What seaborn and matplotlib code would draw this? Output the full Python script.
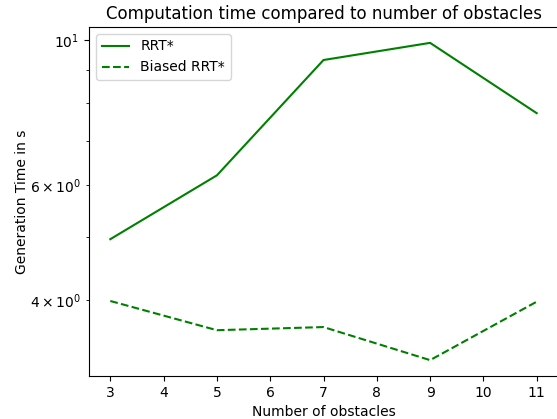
import matplotlib
matplotlib.use("Agg")
import matplotlib.pyplot as plt
import seaborn as sns
import pandas as pd

obstacles = [3, 5, 7, 9, 11]
rrt_star = [4.96, 6.21, 9.32, 9.90, 7.73]
biased_rrt_star = [3.99, 3.60, 3.64, 3.24, 3.98]

df = pd.DataFrame({
    "obstacles": obstacles * 2,
    "time": rrt_star + biased_rrt_star,
    "method": ["RRT*"] * len(obstacles) + ["Biased RRT*"] * len(obstacles),
})

W, H = 557, 419
fig = plt.figure(figsize=(W / 100, H / 100), dpi=100)
ax = fig.add_axes([89 / W, 1 - 376 / H, (558 - 89) / W, (376 - 27) / H])
sns.lineplot(data=df, x="obstacles", y="time", style="method", color="green",
             dashes={"RRT*": "", "Biased RRT*": (3.7, 1.6)}, ax=ax, linewidth=1.5)
ax.set_yscale("log")
ax.set_title("Computation time compared to number of obstacles")
ax.set_xlabel("Number of obstacles")
ax.set_ylabel("Generation Time in s", labelpad=1)
ax.legend(loc="upper left")
fig.savefig("out.png", dpi=100)
